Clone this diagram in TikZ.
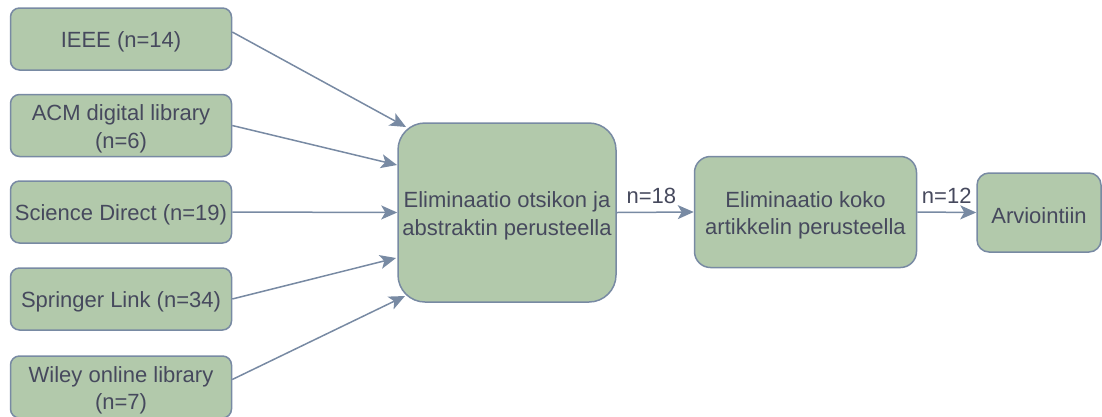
\documentclass[tikz,border=0pt]{standalone}
\usepackage{fontspec}
\setmainfont{Liberation Sans}
\usetikzlibrary{arrows.meta,calc}
\definecolor{boxfill}{HTML}{B2C9AB}
\definecolor{boxline}{HTML}{788AA3}
\definecolor{boxtext}{HTML}{46495D}
\begin{document}
\begin{tikzpicture}[x=1pt,y=-1pt,
  box/.style={draw=boxline, fill=boxfill, line width=1.5pt, text=boxtext,
    align=center, inner sep=0pt, font=\fontsize{22}{27.5}\selectfont,
    execute at begin node={\rule{0pt}{22.5pt}}},
  twoline/.style={execute at begin node={\rule{0pt}{50pt}}},
  srcbox/.style={box, minimum width=221pt, minimum height=62pt, rounded corners=9pt},
  conn/.style={draw=boxline, line width=1.5pt, -{Stealth[length=16pt,width=14pt,inset=4pt]}},
  lbl/.style={text=boxtext, font=\fontsize{22}{26.5}\selectfont, inner sep=0pt, anchor=base}]
\useasboundingbox (0,0) rectangle (1102,416);
\node[srcbox] (ieee) at (121,39) {IEEE (n=14)};
\node[srcbox, twoline] (acm) at (121,125.5) {ACM digital library\\(n=6)};
\node[srcbox] (sd) at (121,212) {Science Direct (n=19)};
\node[srcbox] (spr) at (121,299) {Springer Link (n=34)};
\node[srcbox, twoline] (wiley) at (121,387) {Wiley online library\\(n=7)};
\node[box, twoline, minimum width=218pt, minimum height=179pt, rounded corners=27pt] (elim) at (507,212.5) {Eliminaatio otsikon ja\\abstraktin perusteella};
\node[box, twoline, minimum width=222pt, minimum height=111pt, rounded corners=16pt] (full) at (805.5,212) {Eliminaatio koko\\artikkelin perusteella};
\node[box, minimum width=124pt, minimum height=79pt, rounded corners=12pt] (arv) at (1039,212.5) {Arviointiin};
\draw[conn] ($(ieee.east)+(0,-7)$) -- ($(elim.center)+(-101,-85.5)$);
\draw[conn] (acm.east) -- ($(elim.center)+(-110,-47.5)$);
\draw[conn] (sd.east) -- (elim.west);
\draw[conn] (spr.east) -- ($(elim.center)+(-111,45.5)$);
\draw[conn] ($(wiley.east)+(0,-7.5)$) -- ($(elim.center)+(-102,83.5)$);
\draw[conn] (elim.east) -- node[lbl, pos=0.45, yshift=9pt] {n=18} (full.west);
\draw[conn] (full.east) -- node[lbl, pos=0.5, yshift=9pt] {n=12} (arv.west);
\end{tikzpicture}
\end{document}
